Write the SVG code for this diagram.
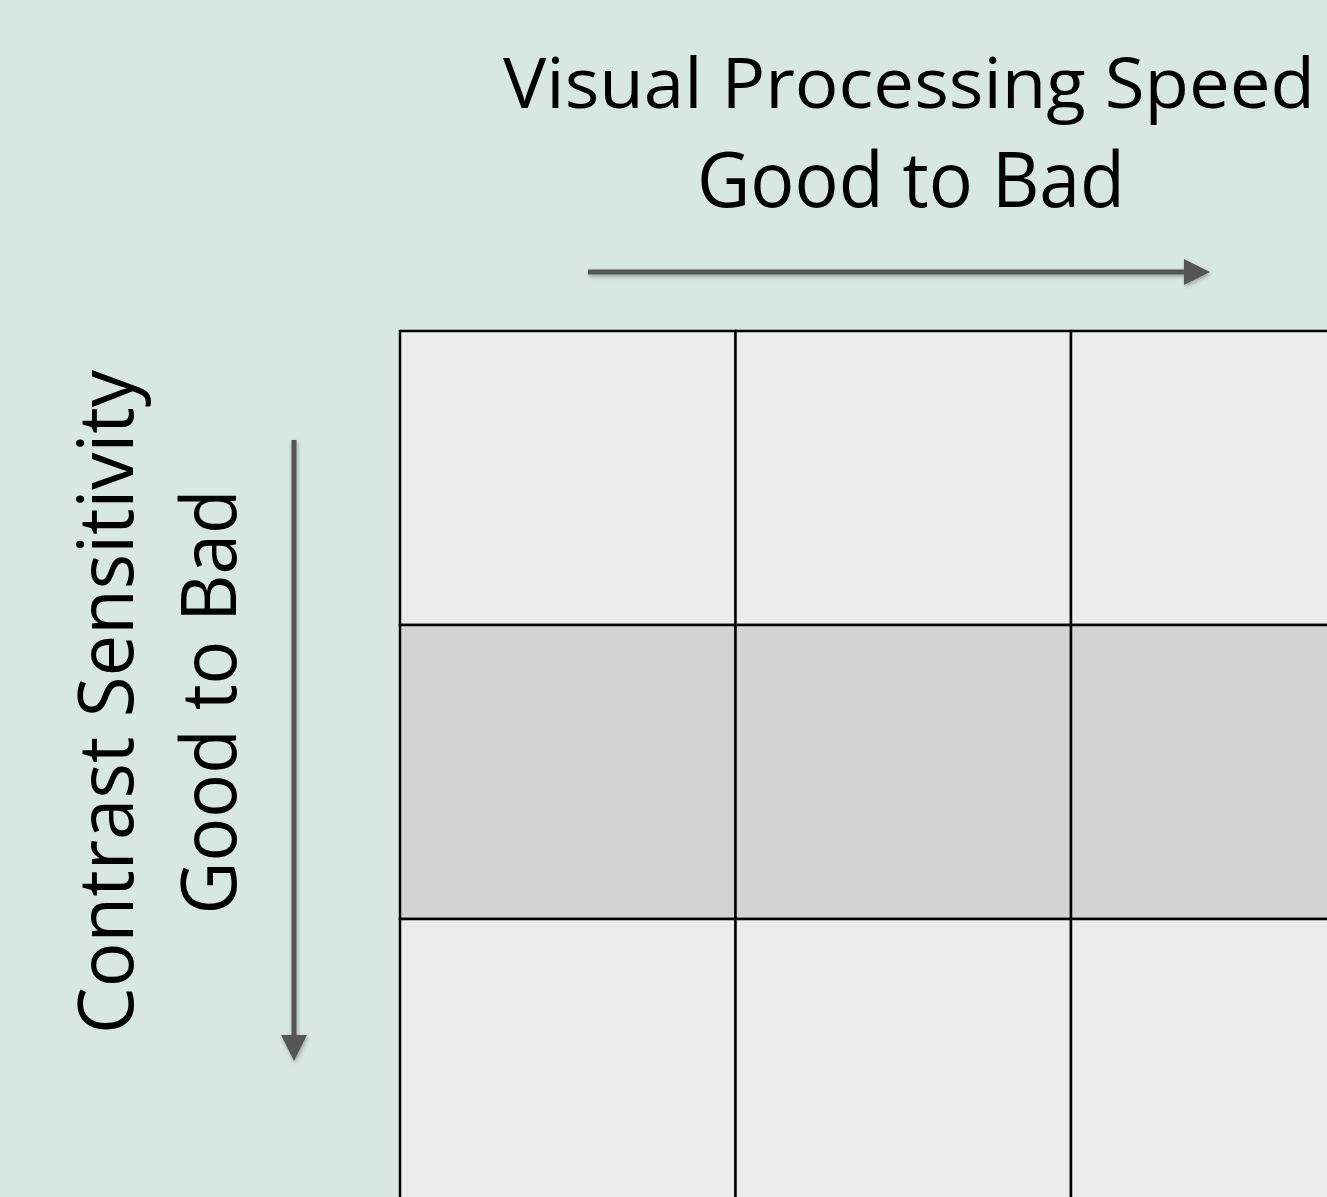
<svg xmlns="http://www.w3.org/2000/svg" width="1327" height="1197" viewBox="0 0 1327 1197">
<style>
.t{font-family:"Open Sans","Liberation Sans",sans-serif;font-size:76px;fill:#000;text-anchor:middle}
.c1{fill:#ececec;stroke:#000;stroke-width:2.5}
.c2{fill:#d4d4d4;stroke:#000;stroke-width:2.5}
.ax{stroke:#555;stroke-width:5;fill:none}
</style>
<defs>
<filter id="sh" x="-20%" y="-20%" width="140%" height="140%"><feGaussianBlur in="SourceAlpha" stdDeviation="2"/><feOffset dx="1" dy="2"/><feComponentTransfer><feFuncA type="linear" slope="0.3"/></feComponentTransfer><feMerge><feMergeNode/><feMergeNode in="SourceGraphic"/></feMerge></filter>
</defs>
<rect width="1327" height="1197" fill="#d9e7e1"/>
<g id="title">
<text class="t" x="909" y="108" style="font-size:70px" textLength="812" lengthAdjust="spacingAndGlyphs">Visual Processing Speed</text>
<text class="t" x="911" y="207" textLength="428" lengthAdjust="spacingAndGlyphs">Good to Bad</text>
</g>
<g id="ylabel">
<text class="t" transform="translate(133 702) rotate(-90)" textLength="664" lengthAdjust="spacingAndGlyphs">Contrast Sensitivity</text>
<text class="t" transform="translate(236 702) rotate(-90)" textLength="425" lengthAdjust="spacingAndGlyphs">Good to Bad</text>
</g>
<g id="grid">
<rect id="r1c1" class="c1" x="400" y="331" width="335.5" height="294"/>
<rect id="r1c2" class="c1" x="735.5" y="331" width="335.5" height="294"/>
<rect id="r1c3" class="c1" x="1071" y="331" width="335.5" height="294"/>
<rect id="r2c1" class="c2" x="400" y="625" width="335.5" height="294"/>
<rect id="r2c2" class="c2" x="735.5" y="625" width="335.5" height="294"/>
<rect id="r2c3" class="c2" x="1071" y="625" width="335.5" height="294"/>
<rect id="r3c1" class="c1" x="400" y="919" width="335.5" height="294"/>
<rect id="r3c2" class="c1" x="735.5" y="919" width="335.5" height="294"/>
<rect id="r3c3" class="c1" x="1071" y="919" width="335.5" height="294"/>
</g>
<g id="connectors" filter="url(#sh)">
<line class="ax" x1="588" y1="272" x2="1186" y2="272"/>
<polygon points="1184,259 1210,272 1184,285" fill="#555"/>
<line class="ax" x1="294" y1="440" x2="294" y2="1037"/>
<polygon points="281,1035 307,1035 294,1061" fill="#555"/>
</g>
</svg>
